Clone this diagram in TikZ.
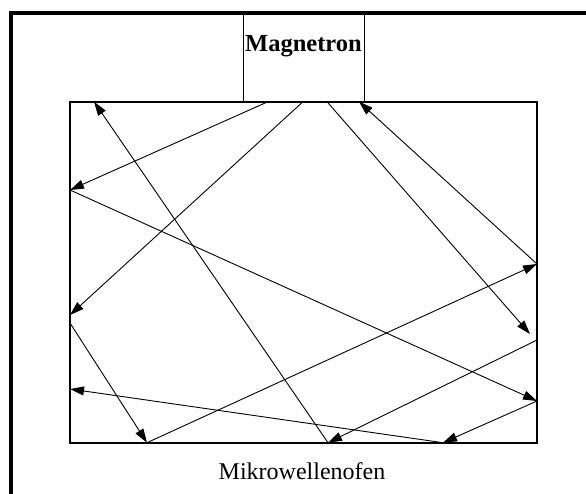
\documentclass[tikz,border=0pt]{standalone}
\usepackage{fontspec}
\setmainfont{Liberation Serif}
\usetikzlibrary{arrows.meta}
\begin{document}
\begin{tikzpicture}[x=1pt,y=-1pt,
  ray/.style={line width=0.9pt},
  rayarrow/.style={ray,-{Triangle[length=14pt,width=9pt]}},
  wall/.style={line width=2.4pt},
  framestyle/.style={line width=4pt},
  magbox/.style={line width=0.9pt},
  labeltext/.style={inner sep=0pt, anchor=base}]
\useasboundingbox (0,0) rectangle (586,493);
\clip (0,0) rectangle (586,493);
\fill[white] (0,0) rectangle (586,493);
% outer frame
\coordinate (fbl) at (10.5,520);
\coordinate (ftl) at (10.5,12.5);
\coordinate (ftr) at (620,12.5);
\draw[framestyle] (fbl) -- (ftl) -- (ftr);
% magnetron
\coordinate (magtl) at (243.5,12.5);
\coordinate (magbr) at (364,101.7);
\draw[magbox] (magtl) rectangle (magbr);
\node[labeltext, font=\bfseries\fontsize{24.5}{28}\selectfont] (magtext) at (303.5,51.5) {Magnetron};
% oven
\coordinate (ovtl) at (70,101.7);
\coordinate (ovbr) at (537,442.7);
\draw[wall] (ovtl) rectangle (ovbr);
\node[labeltext, font=\fontsize{24}{28}\selectfont] (oventext) at (302,479.5) {Mikrowellenofen};
% reflection points
\coordinate (t1) at (268,101.7);
\coordinate (t2) at (303,101.7);
\coordinate (t3) at (327,101.7);
\coordinate (t4) at (359,101.7);
\coordinate (t5) at (94,101.7);
\coordinate (l1) at (70,190);
\coordinate (l2) at (70,315);
\coordinate (l2b) at (70,323);
\coordinate (l3) at (70,389);
\coordinate (b1) at (147,442.7);
\coordinate (b2) at (328,442.7);
\coordinate (b3) at (443,442.7);
\coordinate (r1) at (537,264);
\coordinate (r2tip) at (530,334);
\coordinate (r2) at (537,340);
\coordinate (r3) at (537,401);
% rays
\draw[rayarrow] (t1) -- (l1);
\draw[rayarrow] (l1) -- (r3);
\draw[rayarrow] (t2) -- (l2);
\draw[rayarrow] (l2b) -- (b1);
\draw[rayarrow] (b1) -- (r1);
\draw[rayarrow] (r1) -- (t4);
\draw[rayarrow] (t3) -- (r2tip);
\draw[rayarrow] (r2) -- (b2);
\draw[rayarrow] (b2) -- (t5);
\draw[rayarrow] (b3) -- (l3);
\draw[rayarrow] (r3) -- (b3);
\end{tikzpicture}
\end{document}
